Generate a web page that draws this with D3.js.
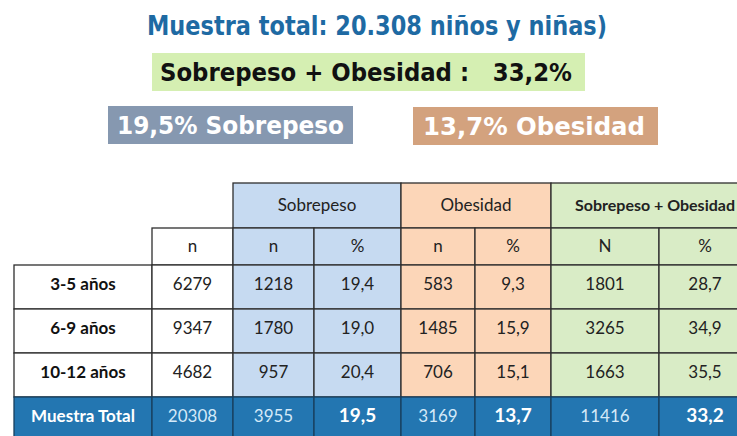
<!DOCTYPE html>
<html>
<head>
<meta charset="utf-8">
<script src="https://cdn.jsdelivr.net/npm/d3@7"></script>
<style>
  body { margin: 0; background: #fff; }
  svg { display: block; }
</style>
</head>
<body>
<div id="chart"></div>
<script>
// data
var ageGroups = ["3-5 años", "6-9 años", "10-12 años", "Muestra Total"];
var nTotal = [6279, 9347, 4682, 20308];
var sobreN = [1218, 1780, 957, 3955];
var sobrePct = ["19,4", "19,0", "20,4", "19,5"];
var obesN = [583, 1485, 706, 3169];
var obesPct = ["9,3", "15,9", "15,1", "13,7"];
var bothN = [1801, 3265, 1663, 11416];
var bothPct = ["28,7", "34,9", "35,5", "33,2"];

var groups = ["Sobrepeso", "Obesidad", "Sobrepeso + Obesidad"];
var subHeads = ["", "n", "n", "%", "n", "%", "N", "%"];

var svgWidth = 737;
var svgHeight = 436;

var svg = d3.select("#chart")
  .append("svg")
  .attr("width", svgWidth)
  .attr("height", svgHeight);

// headline boxes
var condensed = "'DejaVu Sans Condensed', 'DejaVu Sans', sans-serif";

svg.append("text")
  .attr("x", 147).attr("y", 35)
  .attr("textLength", 460).attr("lengthAdjust", "spacingAndGlyphs")
  .style("font-family", condensed).style("font-weight", "bold")
  .style("font-size", "26px").style("fill", "#1e6aa3")
  .text("Muestra total: 20.308 niños y niñas)");

var boxes = [
  {x: 152, y: 53, w: 433, h: 38, fill: "#d5efb2", color: "#111", tx: 160, tw: 412, label: "Sobrepeso + Obesidad :   33,2%"},
  {x: 108, y: 106, w: 245, h: 38, fill: "#8698b0", color: "#fff", tx: 117, tw: 227, label: "19,5% Sobrepeso"},
  {x: 413, y: 107, w: 245, h: 38, fill: "#d3a27e", color: "#fff", tx: 423, tw: 222, label: "13,7% Obesidad"}
];

var boxG = svg.selectAll("g.box")
  .data(boxes)
  .enter()
  .append("g")
  .attr("class", "box");

boxG.append("rect")
  .attr("x", d => d.x).attr("y", d => d.y)
  .attr("width", d => d.w).attr("height", d => d.h)
  .attr("fill", d => d.fill);

boxG.append("text")
  .attr("x", d => d.tx).attr("y", d => d.y + d.h / 2 + 9)
  .attr("textLength", d => d.tw).attr("lengthAdjust", "spacingAndGlyphs")
  .style("font-family", condensed).style("font-weight", "bold")
  .style("font-size", "25px").style("fill", d => d.color)
  .style("white-space", "pre")
  .text(d => d.label);

// table layout
var colKeys = ["age", "n", "sn", "sp", "on", "op", "bn", "bp"];
var colWidths = [138, 81, 81, 87, 74, 76, 108, 92];
var colEdges = [14].concat(Array.from(d3.cumsum(colWidths), v => v + 14));
var xCol = d3.scaleOrdinal().domain(colKeys).range(colEdges.slice(0, -1));
var wCol = d3.scaleOrdinal().domain(colKeys).range(colWidths);

var yRow = d3.scaleBand().domain(ageGroups).range([265, 441]);
var headTop = 183, subTop = 228;

var lineColor = "#2e2e2e";
var tableFont = "Lato, 'Open Sans', sans-serif";
var colFill = {age: "#fff", n: "#fff", sn: "#c6daf1", sp: "#c6daf1", on: "#fcd6b8", op: "#fcd6b8", bn: "#d9ecc6", bp: "#d9ecc6"};
var totalFill = "#2376b1";

var table = svg.append("g");

// group headers
var groupCols = [["sn", "sp"], ["on", "op"], ["bn", "bp"]];
groupCols.forEach(function(pair, i) {
  var x0 = xCol(pair[0]);
  var w = wCol(pair[0]) + wCol(pair[1]);
  table.append("rect")
    .attr("x", x0).attr("y", headTop)
    .attr("width", w).attr("height", subTop - headTop)
    .attr("fill", colFill[pair[0]])
    .attr("stroke", lineColor).attr("stroke-width", 1.3);
  table.append("text")
    .attr("x", i == 2 ? 735 : x0 + w / 2).attr("y", (headTop + subTop) / 2 + 5)
    .attr("text-anchor", i == 2 ? "end" : "middle")
    .style("font-family", tableFont).style("font-size", i == 2 ? "16px" : "17px")
    .style("font-weight", i == 2 ? "bold" : "normal")
    .style("fill", "#222")
    .text(groups[i]);
});

// sub headers
colKeys.slice(1).forEach(function(k, i) {
  table.append("rect")
    .attr("x", xCol(k)).attr("y", subTop)
    .attr("width", wCol(k)).attr("height", yRow.range()[0] - subTop)
    .attr("fill", colFill[k])
    .attr("stroke", lineColor).attr("stroke-width", 1.3);
  table.append("text")
    .attr("x", xCol(k) + wCol(k) / 2).attr("y", (subTop + yRow.range()[0]) / 2 + 5)
    .attr("text-anchor", "middle")
    .style("font-family", tableFont).style("font-size", "17px")
    .style("fill", "#222")
    .text(subHeads[i + 1]);
});

// body rows
var rows = ageGroups.map(function(a, i) {
  return {age: a, n: nTotal[i], sn: sobreN[i], sp: sobrePct[i], on: obesN[i], op: obesPct[i], bn: bothN[i], bp: bothPct[i], total: i == ageGroups.length - 1};
});

var boldCols = ["age", "sp", "op", "bp"];

rows.forEach(function(r) {
  colKeys.forEach(function(k) {
    table.append("rect")
      .attr("x", xCol(k)).attr("y", yRow(r.age))
      .attr("width", wCol(k)).attr("height", yRow.bandwidth())
      .attr("fill", r.total ? totalFill : colFill[k])
      .attr("stroke", r.total ? "#183f5e" : lineColor).attr("stroke-width", 1.3);

    var bold = r.total ? boldCols.indexOf(k) >= 0 : k == "age";
    table.append("text")
      .attr("x", xCol(k) + wCol(k) / 2).attr("y", yRow(r.age) + yRow.bandwidth() / 2 + 3)
      .attr("text-anchor", "middle")
      .style("font-family", tableFont)
      .style("font-size", r.total && bold && k != "age" ? "19px" : "17px")
      .style("font-weight", bold ? "bold" : "normal")
      .style("fill", r.total ? (bold ? "#fff" : "#d4e9f8") : (k == "age" ? "#111" : "#222"))
      .text(r[k]);
  });
});
</script>
</body>
</html>
